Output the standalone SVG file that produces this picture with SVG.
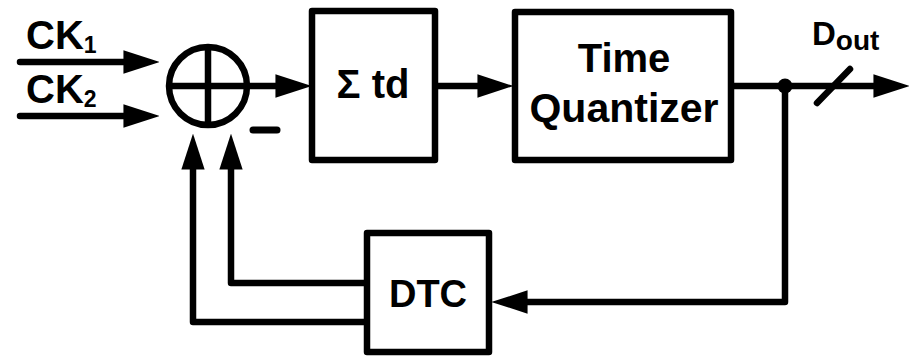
<svg xmlns="http://www.w3.org/2000/svg" width="912" height="356" viewBox="0 0 912 356">
<style>
.w{fill:none;stroke:#000;stroke-width:6.5;stroke-linejoin:round;stroke-linecap:round}
.box{fill:#fff;stroke:#000;stroke-width:6.5;stroke-linejoin:round}
.t{font-family:"Liberation Sans",Arial,sans-serif;font-weight:bold;fill:#000}
.c{text-anchor:middle}
</style>
<defs>
<marker id="ah" markerUnits="userSpaceOnUse" markerWidth="36" markerHeight="24" viewBox="0 0 34 22" refX="10" refY="11" orient="auto">
<path d="M0,0 L34,11 L0,22 Z" fill="#000"/>
</marker>
</defs>
<rect width="912" height="356" fill="#fff"/>
<g id="connectors">
<path class="w" d="M20,62 H134" marker-end="url(#ah)"/>
<path class="w" d="M20,116 H134" marker-end="url(#ah)"/>
<path class="w" d="M247,86 H286" marker-end="url(#ah)" style="stroke-linecap:butt"/>
<path class="w" d="M435,86 H488" marker-end="url(#ah)" style="stroke-linecap:butt"/>
<path class="w" d="M731,86 H884" marker-end="url(#ah)" style="stroke-linecap:butt"/>
<path class="w" d="M785,86 V302 H517" marker-end="url(#ah)"/>
<path class="w" d="M367,283 H231 V159" marker-end="url(#ah)" style="stroke-linecap:butt"/>
<path class="w" d="M367,322 H193 V159" marker-end="url(#ah)" style="stroke-linecap:butt"/>
<circle cx="785" cy="86" r="7.5" fill="#000"/>
<line class="w" x1="817" y1="103" x2="850" y2="69"/>
</g>
<g id="inputs">
<text class="t" x="26" y="49" font-size="40">CK<tspan font-size="23" dy="4">1</tspan></text>
<text class="t" x="26" y="103" font-size="40">CK<tspan font-size="23" dy="4">2</tspan></text>
</g>
<g id="summer">
<circle class="w" cx="208" cy="86" r="39"/>
<path class="w" d="M169,86 H247 M208,47 V125" style="stroke-linecap:butt"/>
<line class="w" x1="253" y1="130" x2="277" y2="130" style="stroke-width:7"/>
</g>
<g id="integrator">
<rect class="box" x="312" y="11" width="123" height="149"/>
<text class="t c" x="373" y="98" font-size="40">Σ td</text>
</g>
<g id="quantizer">
<rect class="box" x="515" y="12" width="216" height="148"/>
<text class="t c" x="624" y="72" font-size="40">Time</text>
<text class="t c" x="624" y="122" font-size="41">Quantizer</text>
</g>
<g id="dtc">
<rect class="box" x="367" y="233" width="122" height="119"/>
<text class="t c" x="428" y="307" font-size="38">DTC</text>
</g>
<g id="output-label">
<text class="t" x="812" y="45" font-size="33">D<tspan font-size="28" dy="5">out</tspan></text>
</g>
</svg>
